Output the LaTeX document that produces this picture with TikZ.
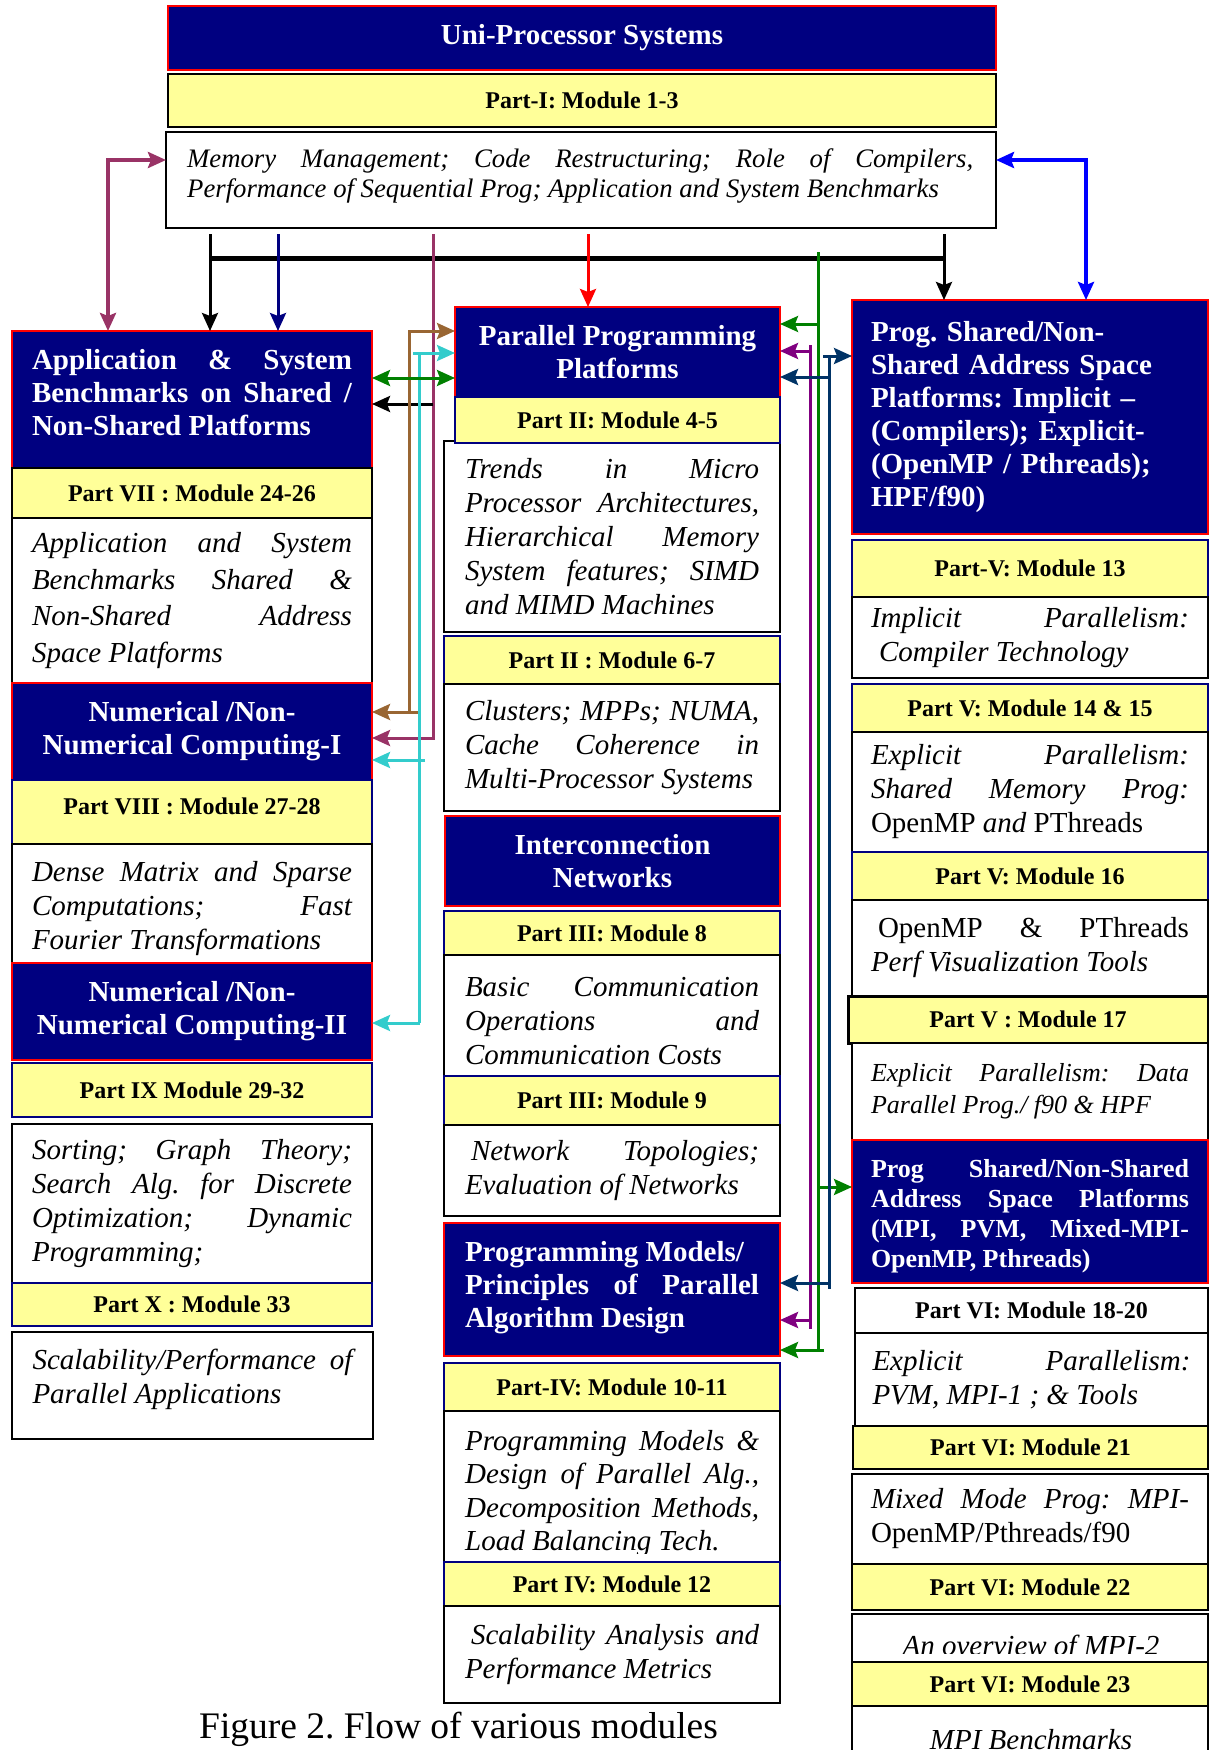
\documentclass[tikz,border=0pt]{standalone}
\usepackage{fontspec}
\setmainfont{Liberation Serif}
\usetikzlibrary{arrows.meta}
\tolerance=10000 \hbadness=10000 \hyphenpenalty=10000 \exhyphenpenalty=10000
\definecolor{navyc}{HTML}{000080}
\definecolor{yel}{HTML}{FFFF99}
\definecolor{mar}{HTML}{993366}
\definecolor{brn}{HTML}{996633}
\definecolor{cyn}{HTML}{33CCCC}
\definecolor{grn}{HTML}{008000}
\definecolor{pur}{HTML}{800080}
\definecolor{dkb}{HTML}{003366}
\definecolor{blu}{HTML}{0000FF}
\definecolor{redc}{HTML}{FF0000}
\newcommand\mkbox[7]{\node[#2,anchor=north west,inner sep=0pt,outer sep=0pt,minimum width={(#5-#3)*1pt},minimum height={(#6-#4)*1pt}] (#1) at (#3,#4) {#7};}
\newcommand\dn[1]{\rule[-#1]{0pt}{#1}}
\newcommand\hu[1]{\rule{0pt}{#1}}
\begin{document}
\frenchspacing
\begin{tikzpicture}[x=1pt,y=-1pt,
  >={Stealth[length=18pt,width=16pt,inset=3pt]},
  navybox/.style={fill=navyc,draw=redc,line width=2pt},
  yelbox/.style={fill=yel,draw=navyc,line width=2pt},
  yelk/.style={fill=yel,draw=black,line width=2pt},
  whbox/.style={fill=white,draw=black,line width=2pt},
  hdr/.style={text=white,font=\fontsize{29}{33}\selectfont\bfseries},
  lbl/.style={align=center,font=\fontsize{24}{28}\selectfont\bfseries},
  body/.style={font=\fontsize{29}{34}\selectfont\itshape},
  lw/.style={align=justify,text width=320pt},
  mw/.style={align=justify,text width=294pt},
  rw/.style={align=justify,text width=318pt},
  ln/.style={line width=3pt}]
\useasboundingbox (0,0) rectangle (1209,1750);
\clip (0,0) rectangle (1209,1750);
% ---------- top ----------
\mkbox{uni}{navybox,hdr,align=center}{168}{6}{996}{70}{Uni-Processor Systems}
\mkbox{p1}{yelk,lbl}{168}{74}{996}{127}{Part-I: Module 1-3}
\mkbox{mem}{whbox}{166}{132}{996}{228}{}
\node[anchor=north west,inner sep=0pt,align=justify,text width=786pt,font=\fontsize{26.7}{30}\selectfont\itshape] (memt) at (187,149) {Memory Management; Code Restructuring; Role of Compilers,\linebreak Performance of Sequential Prog; Application and System Benchmarks};
% ---------- left column ----------
\mkbox{app}{navybox,hdr,lw}{12}{331}{372}{468}{Application \& System\linebreak Benchmarks on Shared /\linebreak Non-Shared Platforms\dn{14pt}}
\mkbox{p7}{yelk,lbl}{12}{468}{372}{518}{Part VII : Module 24-26}
\mkbox{t7}{whbox,body,lw,font=\fontsize{29}{36.7}\selectfont\itshape}{12}{518}{372}{683}{Application and System\linebreak Benchmarks Shared \&\linebreak Non-Shared Address\linebreak Space Platforms}
\mkbox{num1}{navybox,hdr,align=center}{12}{683}{372}{780}{Numerical /Non-\\Numerical Computing-I}
\mkbox{p8}{yelbox,lbl}{12}{780}{372}{844}{\raisebox{6pt}[\height][\depth]{Part VIII : Module 27-28}}
\mkbox{t8}{whbox,body,lw}{12}{844}{372}{963}{\hu{30pt}Dense Matrix and Sparse\linebreak Computations; Fast\linebreak Fourier Transformations}
\mkbox{num2}{navybox,hdr,align=center}{12}{963}{372}{1060}{Numerical /Non-\\Numerical Computing-II}
\mkbox{p9}{yelbox,lbl}{12}{1063}{372}{1117}{Part IX Module 29-32}
\mkbox{t9}{whbox,body,lw}{12}{1124}{372}{1283}{Sorting; Graph Theory;\linebreak Search Alg. for Discrete\linebreak Optimization; Dynamic\linebreak Programming;}
\mkbox{p10}{yelbox,lbl}{12}{1283}{372}{1326}{Part X : Module 33}
\mkbox{t10}{whbox,body,lw}{12}{1332}{373}{1439}{Scalability/Performance of\linebreak Parallel Applications\dn{18pt}}
% ---------- middle column ----------
\mkbox{par}{navybox,hdr,align=center}{455}{307}{780}{397}{Parallel Programming\\Platforms}
\mkbox{t2a}{whbox,body,mw}{444}{441}{780}{632}{Trends in Micro\linebreak Processor Architectures,\linebreak Hierarchical Memory\linebreak System features; SIMD\linebreak and MIMD Machines}
\mkbox{p2a}{yelbox,lbl}{455}{397}{780}{443}{Part II: Module 4-5}
\mkbox{p2b}{yelbox,lbl}{444}{636}{780}{684}{Part II : Module 6-7}
\mkbox{t2b}{whbox,body,mw}{444}{684}{780}{811}{Clusters; MPPs; NUMA,\linebreak Cache Coherence in\linebreak Multi-Processor Systems}
\mkbox{net}{navybox,hdr,align=center}{445}{816}{780}{906}{Interconnection\\Networks}
\mkbox{p3a}{yelbox,lbl}{444}{911}{780}{955}{Part III: Module 8}
\mkbox{t3a}{whbox,body,mw}{444}{955}{780}{1076}{\hu{31pt}Basic Communication\linebreak Operations and\linebreak Communication Costs}
\mkbox{p3b}{yelbox,lbl}{444}{1076}{780}{1125}{Part III: Module 9}
\mkbox{t3b}{whbox,body,mw}{444}{1125}{780}{1216}{\hspace*{6pt}Network Topologies;\linebreak Evaluation of Networks}
\mkbox{pm}{navybox,hdr,mw}{444}{1223}{780}{1356}{Programming Models/\\Principles of Parallel\linebreak Algorithm Design\dn{10pt}}
\mkbox{p4a}{yelbox,lbl}{444}{1363}{780}{1411}{Part-IV: Module 10-11}
\mkbox{t4a}{whbox}{444}{1411}{780}{1562}{}
\begin{scope}
\clip (444,1411) rectangle (780,1553);
\node[body,mw,anchor=north west,inner sep=0pt,font=\fontsize{29}{33.5}\selectfont\itshape] (t4at) at (465,1430) {Programming Models \&\linebreak Design of Parallel Alg.,\linebreak Decomposition Methods,\linebreak Load Balancing Tech.};
\end{scope}
\mkbox{p4b}{yelbox,lbl}{444}{1562}{780}{1606}{Part IV: Module 12}
\mkbox{t4b}{whbox,body,mw}{444}{1606}{780}{1703}{\hspace*{6pt}Scalability Analysis and\linebreak Performance Metrics}
\node[anchor=base west,inner sep=0pt,font=\fontsize{37.5}{40}\selectfont] (cap) at (199,1738) {Figure 2. Flow of various modules};
% ---------- right column ----------
\mkbox{rb}{navybox,hdr,align=left,text width=318pt}{852}{300}{1208}{534}{Prog. Shared/Non-\\Shared Address Space\\Platforms: Implicit --\\(Compilers); Explicit-\\(OpenMP / Pthreads);\\HPF/f90)}
\mkbox{p5a}{yelbox,lbl}{852}{540}{1208}{597}{Part-V: Module 13}
\mkbox{t5a}{whbox,body,rw}{852}{597}{1208}{678}{Implicit Parallelism:\linebreak\hspace*{8pt}Compiler Technology}
\mkbox{p5b}{yelbox,lbl}{852}{684}{1208}{732}{Part V: Module 14 \& 15}
\mkbox{t5b}{whbox,body,rw}{852}{732}{1208}{852}{Explicit Parallelism:\linebreak Shared Memory Prog:\linebreak {\upshape OpenMP} and {\upshape PThreads}}
\mkbox{p5c}{yelbox,lbl}{852}{852}{1208}{900}{Part V: Module 16}
\mkbox{t5c}{whbox,body,rw}{852}{900}{1208}{996}{\hspace*{7pt}{\upshape OpenMP \& PThreads}\linebreak Perf Visualization Tools}
\mkbox{p5d}{yelk,lbl,line width=3pt}{848}{996}{1208}{1043}{Part V : Module 17}
\mkbox{t5d}{whbox,rw,font=\fontsize{26}{32}\selectfont\itshape}{852}{1043}{1208}{1140}{Explicit Parallelism: Data\linebreak Parallel Prog./ f90 \& HPF}
\mkbox{mpi}{navybox,hdr,rw,font=\fontsize{26}{30}\selectfont\bfseries}{852}{1140}{1208}{1283}{\hu{28pt}Prog Shared/Non-Shared\linebreak Address Space Platforms\linebreak (MPI, PVM, Mixed-MPI-\linebreak OpenMP, Pthreads)}
\mkbox{p6a}{whbox,lbl}{855}{1288}{1208}{1333}{Part VI: Module 18-20}
\mkbox{t6a}{whbox,body,rw}{855}{1333}{1208}{1426}{Explicit Parallelism:\linebreak PVM, MPI-1 ; \& Tools}
\mkbox{p6b}{yelk,lbl}{853}{1426}{1208}{1469}{Part VI: Module 21}
\mkbox{t6b}{whbox,body,rw}{852}{1474}{1208}{1564}{Mixed Mode Prog: MPI-\linebreak{\upshape OpenMP/Pthreads/f90}}
\mkbox{p6c}{yelk,lbl}{852}{1564}{1208}{1610}{Part VI: Module 22}
\mkbox{t6c}{whbox}{852}{1614}{1208}{1662}{}
\begin{scope}
\clip (852,1614) rectangle (1208,1653);
\node[body,anchor=base,inner sep=0pt] (t6ct) at (1031,1655) {An overview of MPI-2};
\end{scope}
\mkbox{p6d}{yelk,lbl}{852}{1662}{1208}{1706}{Part VI: Module 23}
\mkbox{t6d}{whbox}{852}{1706}{1208}{1765}{}
\node[body,anchor=base,inner sep=0pt] (t6dt) at (1031,1749) {MPI Benchmarks};
% ---------- connectors ----------
\coordinate (mL) at (108,160);
\coordinate (bR) at (1086,160);
\draw[line width=4pt,mar,<->] (mem.west |- mL) -- (mL) -- (app.north -| mL);
\draw[line width=4pt,blu,<->] (mem.east |- bR) -- (bR) -- (rb.north -| bR);
\coordinate (k1) at (210,234);
\coordinate (k2) at (944,234);
\coordinate (kb1) at (210,258);
\coordinate (kb2) at (944,258);
\draw[ln,->] (k1) -- (app.north -| k1);
\draw[ln,->] (k2) -- (rb.north -| k2);
\draw[line width=5pt] (kb1) -- (kb2);
\coordinate (n1) at (278,234);
\draw[ln,navyc,->] (n1) -- (app.north -| n1);
\coordinate (r1) at (588,234);
\draw[ln,redc,->] (r1) -- (par.north -| r1);
\coordinate (m1) at (433,234);
\draw[ln,mar,->] (m1) -- (433,738) -- (num1.east |- 0,738);
\coordinate (k3) at (433,404);
\draw[ln,->] (k3) -- (app.east |- k3);
\draw[ln,brn,<->] (par.west |- 0,331) -- (409,331) -- (409,712) -- (num1.east |- 0,712);
\draw[ln,brn] (408,712) -- (420,712);
\draw[ln,cyn,->] (413,353) -- (par.west |- 0,353);
\draw[ln,cyn] (419,353) -- (419,1023);
\draw[ln,cyn,->] (425,760) -- (num1.east |- 0,760);
\draw[ln,cyn,->] (420,1023) -- (num2.east |- 0,1023);
\draw[ln,grn,<->] (app.east |- 0,378) -- (par.west |- 0,378);
\draw[ln,grn] (818,252) -- (818,1351);
\draw[ln,grn,->] (819,324) -- (par.east |- 0,324);
\draw[ln,grn,->] (817,1187) -- (mpi.west |- 0,1187);
\draw[ln,grn,->] (824,1350) -- (pm.east |- 0,1350);
\draw[ln,pur,<->] (par.east |- 0,351) -- (810,351) -- (810,1320) -- (pm.east |- 0,1320);
\draw[ln,pur] (810,345) -- (810,1329);
\draw[ln,dkb,->] (830,377) -- (par.east |- 0,377);
\draw[ln,dkb,->] (823,356) -- (rb.west |- 0,356);
\draw[ln,dkb] (829,355) -- (829,1289);
\draw[ln,dkb,->] (830,1283) -- (pm.east |- 0,1283);
\end{tikzpicture}
\end{document}
